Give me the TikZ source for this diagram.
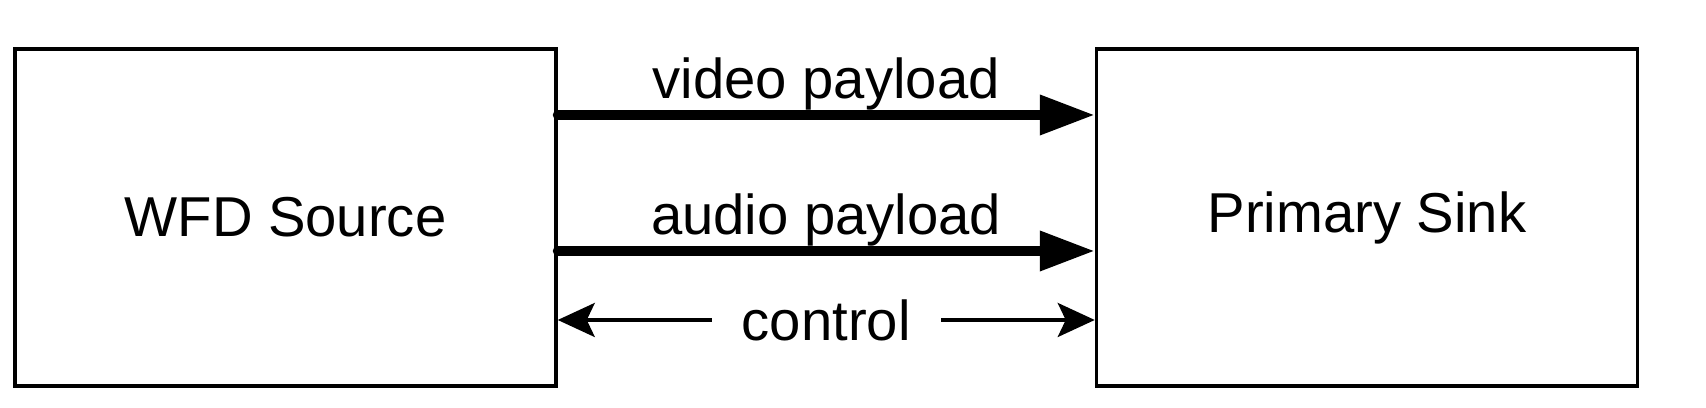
\documentclass[tikz,border=0pt]{standalone}
\usepackage{fontspec}
\setmainfont{Liberation Sans}
\usepackage{tikz}
\usetikzlibrary{arrows.meta, calc, positioning}

\begin{document}
\begin{tikzpicture}[
    font=\fontsize{16}{19}\selectfont,
    blk/.style={draw, line width=0.035cm, minimum width=5.41cm, minimum height=3.37cm, inner sep=0pt},
    payload/.style={line width=0.1cm, line cap=round, -{Triangle[length=0.55cm 0, width=0.38cm 0]}},
    ctrl/.style={line width=0.035cm, {Stealth[length=0.37cm 0, width=0.34cm 0, inset=0.08cm 0]}-{Stealth[length=0.37cm 0, width=0.34cm 0, inset=0.08cm 0]}},
    lbl/.style={inner sep=0pt}
]
    \useasboundingbox (0,0) rectangle (17.06,4.08);

    % 两个方框
    \node[blk] (src) at (2.855,1.905) {WFD Source};
    \node[blk, right=5.37cm of src] (sink) {Primary Sink};

    % 视频和音频
    \draw[payload] ($(src.east)+(0,1.025)$) -- ($(sink.west)+(0,1.025)$)
        node[lbl, midway, above=0cm] {video payload};
    \draw[payload] ($(src.east)+(0,-0.335)$) -- ($(sink.west)+(0,-0.335)$)
        node[lbl, midway, above=0cm] {audio payload};

    % 控制
    \draw[ctrl] ($(src.east)+(0,-1.025)$) -- ($(sink.west)+(0,-1.025)$)
        node[midway, fill=white, inner xsep=0.3cm, inner ysep=0pt] {control};
\end{tikzpicture}
\end{document}
